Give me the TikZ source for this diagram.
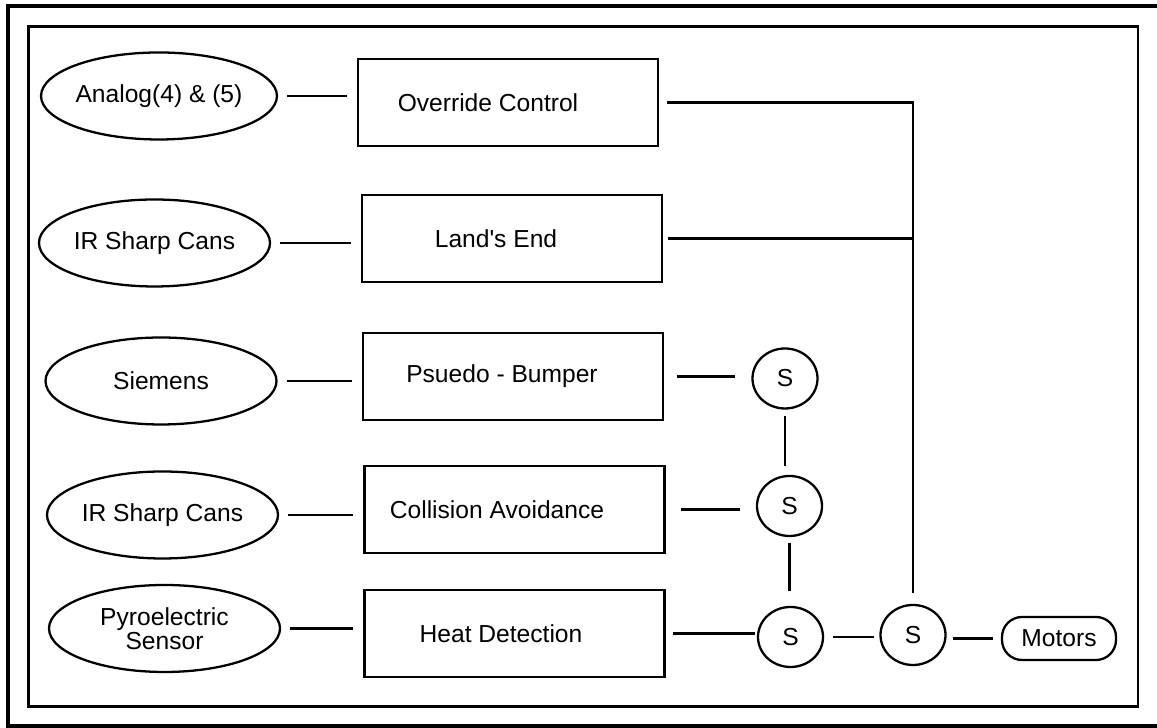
\documentclass[tikz,border=0pt]{standalone}
\usepackage{fontspec}
\setmainfont{Liberation Sans}
\usetikzlibrary{shapes.geometric}

\tikzset{
  sensor/.style={draw, line width=1.3pt, ellipse, minimum width=4.62cm, minimum height=1.74cm, inner sep=0pt, align=center},
  behav/.style={draw, line width=1.3pt, rectangle, minimum width=6cm, minimum height=1.74cm},
  supp/.style={draw, line width=1.3pt, ellipse, minimum width=1.3cm, minimum height=1.2cm, inner sep=0pt},
  wire/.style={line width=1.3pt, shorten <=0.18cm, shorten >=0.2cm}
}

\begin{document}
\begin{tikzpicture}[font=\fontsize{14}{13.5}\selectfont]
  \useasboundingbox (0, 0) rectangle (23.14, 14.56);

  % cadres
  \draw[line width=2.6pt] (0.16, 0.04) rectangle (23.5, 14.44);
  \draw[line width=1.4pt] (0.57, 0.43) rectangle (22.76, 14.03);

  % capteurs
  \node[sensor] (e1) at (3.18, 12.64) {Analog(4) \& (5)};
  \node[sensor] (e2) at (3.09, 9.70) {IR Sharp Cans};
  \node[sensor] (e3) at (3.22, 6.94) {Siemens};
  \node[sensor] (e4) at (3.25, 4.26) {IR Sharp Cans};
  \node[sensor] (e5) at (3.29, 1.99) {Pyroelectric\\Sensor};

  % comportements
  \node[behav] (b1) at (10.16, 12.51) {Override Control\hspace*{0.8cm}};
  \node[behav] (b2) at (10.24, 9.79) {Land\textquotesingle s End\hspace*{0.64cm}};
  \node[behav] (b3) at (10.26, 7.03) {Psuedo - Bumper\hspace*{0.44cm}};
  \node[behav] (b4) at (10.29, 4.37) {Collision Avoidance\hspace*{0.7cm}};
  \node[behav] (b5) at (10.29, 1.89) {Heat Detection\hspace*{0.54cm}};

  % suppresseurs
  \node[supp] (s1) at (15.70, 6.99) {S};
  \node[supp] (s2) at (15.79, 4.44) {S};
  \node[supp] (s3) at (15.81, 1.82) {S};
  \node[supp] (s4) at (18.26, 1.86) {S};
  \node[draw, line width=1.3pt, rounded corners=0.4cm, minimum width=2.28cm, minimum height=0.86cm] (mot) at (21.18, 1.79) {Motors};

  % liaisons
  \foreach \i in {1, ..., 5} \draw[wire] (e\i.east) -- (e\i.east -| b\i.west);

  \draw[wire, shorten <=0.26cm, shorten >=0.32cm] (b3.east) -- (b3.east -| s1.west);
  \draw[wire, shorten <=0.3cm, shorten >=0.32cm] (b4.east) -- (b4.east -| s2.west);
  \draw[wire, shorten <=0.14cm, shorten >=0.04cm] (b5.east) -- (b5.east -| s3.west);

  \draw[wire, shorten <=0.12cm, shorten >=0.18cm] (s1.south) -- (s1.south |- s2.north);
  \draw[wire, shorten <=0.12cm, shorten >=0.3cm] (s2.south) -- (s2.south |- s3.north);
  \draw[wire, shorten <=0.18cm, shorten >=0.1cm] (s3.east) -- (s3.east -| s4.west);
  \draw[wire, shorten <=0.12cm, shorten >=0.16cm] (mot.west -| s4.east) -- (mot.west);

  \draw[wire, shorten <=0.16cm, shorten >=0.22cm] (b1.east) -| (s4.north);
  \coordinate (jn) at (s4.north |- b2.east);
  \draw[wire, shorten <=0.1cm, shorten >=0cm] (b2.east) -- (jn);
\end{tikzpicture}
\end{document}
